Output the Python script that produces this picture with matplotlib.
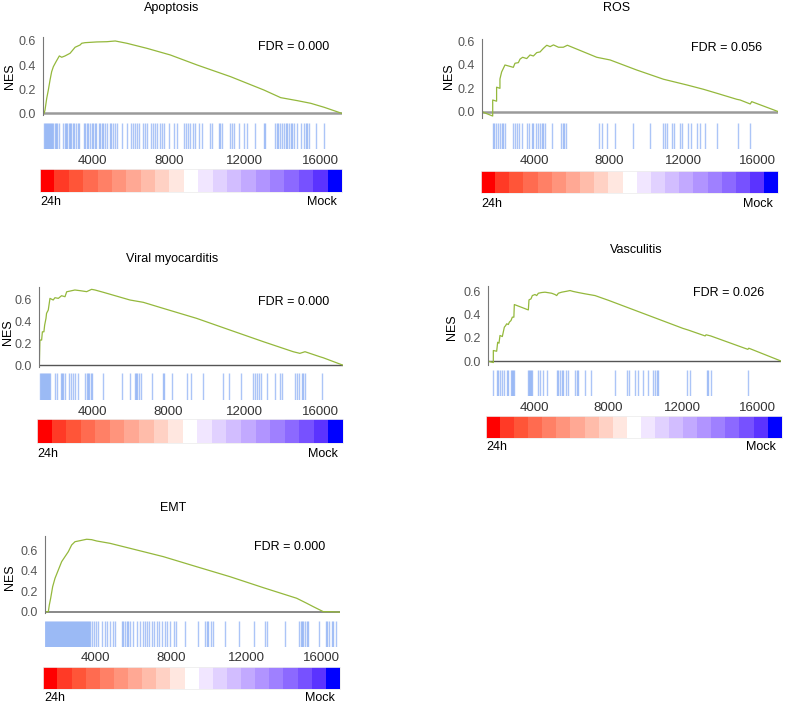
import matplotlib
matplotlib.use("Agg")
import matplotlib.pyplot as plt

plt.rcParams['font.family'] = ['Liberation Sans', 'DejaVu Sans']

# ---- data ----
titles = ["Apoptosis", "ROS", "Viral myocarditis", "Vasculitis", "EMT"]
fdr_values = ["0.000", "0.056", "0.000", "0.026", "0.000"]
x_ticks = [4000, 8000, 12000, 16000]
y_ticks = [0.0, 0.2, 0.4, 0.6]

apo_x = [1390, 1430, 1480, 1570, 1655, 1745, 1830, 1920, 2060, 2235, 2360, 2535, 2800, 3065, 3330, 3415,
         3590, 4210, 4740, 5180, 5790, 6850, 8080, 9490, 11255, 13015, 13895, 14775, 15480, 16185, 17110]
apo_y = [0.0, 0.0, 0.027, 0.124, 0.193, 0.276, 0.345, 0.387, 0.428, 0.476, 0.465, 0.476, 0.498, 0.548, 0.567, 0.581,
         0.586, 0.592, 0.594, 0.600, 0.581, 0.539, 0.484, 0.401, 0.304, 0.193, 0.13, 0.105, 0.083, 0.05, 0.0]
apo_hits = [1430, 1480, 1530, 1585, 1640, 1690, 1745, 1795, 1865, 1920, 1990, 2060, 2130, 2200,
            2450, 2520, 2590, 2660, 2730, 2800, 2870, 2940, 3030, 3120, 3205, 3290,
            3560, 3610, 3680, 3770, 3860, 3945, 4030, 4120, 4190,
            4300, 4385, 4470, 4560, 4665, 4770, 4880, 4965, 5055, 5160, 5265,
            5530, 5790, 6005, 6110, 6215, 6320, 6410, 6640, 6745, 6850,
            7080, 7170, 7255, 7380, 7520, 7645, 7765, 7995, 8295, 8435,
            8790, 8890, 9000, 9140, 9280, 9400, 9580, 9755, 10195, 10285,
            10635, 10725, 10810, 11200, 11305, 11430, 11690, 11960, 12135, 12540, 13015, 13070,
            13595, 13685, 13770, 13860, 13950, 14070, 14160, 14250, 14335, 14425, 14510, 14600,
            14775, 14990, 15130, 15215, 15305, 15390, 15745, 16185]

ros_x = [1170, 1760, 1760, 1970, 1970, 2150, 2150, 2240, 2420, 2870, 2960, 3140, 3230, 3370, 3590, 3770,
         3950, 4130, 4310, 4490, 4670, 4850, 5030, 5300, 5560, 5780, 7360, 8080, 9510, 10950, 12210,
         13100, 13820, 14900, 15080, 15620, 15700, 17140]
ros_y = [0.0, -0.037, 0.10, 0.09, 0.21, 0.20, 0.28, 0.34, 0.40, 0.38, 0.415, 0.42, 0.45, 0.466, 0.455, 0.486,
         0.477, 0.506, 0.512, 0.543, 0.569, 0.557, 0.572, 0.552, 0.552, 0.569, 0.466, 0.443, 0.357, 0.278, 0.229,
         0.192, 0.158, 0.106, 0.10, 0.066, 0.086, 0.0]
ros_hits = [1760, 1830, 1938, 2064, 2154, 2243, 2333, 2423, 2872, 2961, 3087, 3195, 3320,
            3625, 3733, 3859, 3949, 4092, 4218, 4308, 4397, 4487, 4577, 4936,
            5420, 5528, 5618, 5708, 7503, 7628, 7898, 8346, 9334, 10231,
            10949, 11039, 11129, 11398, 11523, 11847, 11936, 12295, 12421, 12744, 12924, 13193,
            13821, 14988, 15616]

vir_x = [1230, 1260, 1350, 1390, 1470, 1510, 1580, 1610, 1700, 1790, 1960, 2050, 2230, 2400, 2580, 2670,
         2840, 3100, 3370, 3720, 3980, 4160, 4600, 6000, 6700, 7750, 9510, 11260, 13020, 14590, 14940,
         15210, 16000, 16170, 17230]
vir_y = [0.0, 0.23, 0.23, 0.305, 0.305, 0.366, 0.427, 0.473, 0.503, 0.609, 0.594, 0.615, 0.609, 0.633, 0.624, 0.669,
         0.675, 0.685, 0.679, 0.670, 0.691, 0.685, 0.664, 0.594, 0.573, 0.518, 0.427, 0.321, 0.215, 0.124, 0.109,
         0.124, 0.078, 0.069, 0.0]
vir_hits = [1240, 1298, 1351, 1404, 1474, 1526, 1579, 1614, 1667, 1719, 1789, 2053, 2140,
            2351, 2403, 2491, 2579, 2807, 2877, 3017, 3105, 3280, 3631, 3719, 3807, 3859, 3929, 3982,
            4561, 5561, 6000, 6262, 6315, 6385, 6490, 6560, 7139, 7718, 7788, 8192, 8981, 9209,
            9823, 10910, 11208, 11840, 12489, 12577, 12664, 12805, 12892, 13225, 13629, 13892, 14015,
            14681, 14769, 14909, 15032, 15120, 15225, 16085]

vas_x = [1490, 1794, 1794, 1974, 2028, 2099, 2153, 2279, 2387, 2458, 2512, 2602, 2656, 2746, 2817, 2900,
         2925, 3679, 3715, 3823, 3894, 4038, 4128, 4218, 4397, 4577, 4936, 5115, 5205, 5295, 5474, 5743,
         5923, 6102, 6372, 6731, 7269, 8000, 9000, 10000, 11000, 12000, 12300, 13200, 13250, 13500,
         15500, 15550, 17285]
vas_y = [0.0, -0.013, 0.09, 0.084, 0.161, 0.153, 0.219, 0.21, 0.29, 0.304, 0.319, 0.313, 0.333, 0.347, 0.376, 0.376,
         0.484, 0.438, 0.524, 0.533, 0.561, 0.570, 0.561, 0.581, 0.587, 0.590, 0.581, 0.570, 0.561, 0.581, 0.590, 0.598,
         0.604, 0.596, 0.587, 0.576, 0.561, 0.52, 0.46, 0.40, 0.34, 0.28, 0.265, 0.215, 0.225, 0.215,
         0.10, 0.11, 0.0]
vas_hits = [1794, 1974, 2064, 2153, 2279, 2387, 2512, 2602, 2746, 2817, 2871, 2925,
            3679, 3715, 3769, 3823, 3894, 4181, 4307, 4487, 4666,
            5205, 5295, 5384, 5474, 5564, 5689, 5797, 6192, 6282, 6372, 6731, 7054,
            8346, 8974, 9100, 9423, 9603, 9872, 10141, 10410, 10500, 10590, 10644,
            12241, 12385, 13282, 13372, 13516, 15526]

emt_x = [1341, 1517, 1570, 1641, 1747, 1871, 2047, 2224, 2400, 2577, 2754, 2930, 3195, 3548, 3813, 4078,
         4784, 5844, 7610, 9376, 11142, 12908, 14674, 15204, 15557, 16087, 16440, 16970]
emt_y = [0.0, 0.0, 0.066, 0.132, 0.246, 0.328, 0.41, 0.492, 0.541, 0.59, 0.656, 0.688, 0.698, 0.712, 0.708, 0.695,
         0.672, 0.623, 0.541, 0.442, 0.344, 0.236, 0.132, 0.083, 0.049, 0.0, 0.0, -0.005]
emt_hits = [1345, 1392, 1450, 1498, 1551, 1610, 1655, 1715, 1760, 1820, 1868, 1925, 1975, 2032, 2080,
            2140, 2186, 2245, 2290, 2350, 2398, 2455, 2505, 2562, 2610, 2668, 2715, 2775, 2822, 2880,
            2928, 2985, 3035, 3092, 3140, 3198, 3245, 3305, 3352, 3410, 3458, 3515, 3565, 3622, 3670, 3728,
            3813, 3937, 4043, 4166, 4343, 4520, 4643, 4784, 4961, 5049,
            5403, 5491, 5579, 5667, 5756, 5844, 6021, 6197,
            6374, 6515, 6639, 6762, 6868, 6992, 7116, 7257, 7398, 7522, 7698, 7822, 7963, 8175, 8281,
            8758, 9464, 9818, 9906, 9994, 10118, 10224, 10877, 11636, 12413, 12996, 13120, 14056,
            14815, 14886, 14939, 15027, 15116, 15204, 15292, 15875, 16228, 16299, 16405, 16529, 16617, 16758]

curves_x = [apo_x, ros_x, vir_x, vas_x, emt_x]
curves_y = [apo_y, ros_y, vir_y, vas_y, emt_y]
hits = [apo_hits, ros_hits, vir_hits, vas_hits, emt_hits]

# ---- layout, in pixels of the 787x707 figure ----
W, H = 787.0, 707.0
# axes box (x0, x1, y_top, y_bottom), ylim, xlim, barcode (top, bottom),
# colour bar (x0, x1, top, bottom), label row y, title pos, fdr pos, NES pos, zero line style
layout = [
    dict(ax=(43.3, 341.7, 37, 115), ylim=(-0.014, 0.633), xlim=(1390, 17110), bar=(122.7, 149),
         cb=(40, 342, 169, 192.3), lab=202, title=(172, 8), fdr=(294, 46.7), nes=(10.5, 76), zero=('#9a9a9a', 1.8)),
    dict(ax=(481.7, 778.3, 39.3, 118), ylim=(-0.054, 0.62), xlim=(1168, 17130), bar=(123.3, 149.3),
         cb=(481, 778.3, 171, 193.3), lab=204, title=(616.7, 8), fdr=(726.7, 48.3), nes=(449, 76), zero=('#9a9a9a', 1.8)),
    dict(ax=(39.3, 343.3, 286.7, 367), ylim=(-0.015, 0.715), xlim=(1228, 17226), bar=(372.7, 400),
         cb=(37, 343, 419, 443), lab=454, title=(171.7, 259.3), fdr=(294, 301.7), nes=(8.3, 331.7), zero=('#555555', 1.0)),
    dict(ax=(487.7, 781, 286, 365), ylim=(-0.034, 0.643), xlim=(1491, 17285), bar=(370, 396),
         cb=(486, 781.7, 416, 438.3), lab=447, title=(636, 250), fdr=(729, 293.3), nes=(452, 326.7), zero=('#555555', 1.0)),
    dict(ax=(45, 340, 536, 613), ylim=(-0.013, 0.744), xlim=(1341, 16970), bar=(620.7, 646.7),
         cb=(43.3, 340, 666.7, 689.3), lab=698.3, title=(173.3, 508.3), fdr=(289.3, 547.3), nes=(10, 576.7), zero=('#888888', 1.4)),
]

cell_colors = ['#ff0000', '#ff3a26', '#ff5538', '#ff6b50', '#ff8066', '#ff947c', '#ffa894', '#ffbcaa',
               '#ffd1c4', '#ffe7e0', '#ffffff', '#f1e6ff', '#e1d1ff', '#d2bdff', '#c2a9ff', '#b194ff',
               '#9f80ff', '#8c69ff', '#7751ff', '#5b33ff', '#0000ff']


def rect(x0, x1, top, bottom):
    return [x0 / W, 1 - bottom / H, (x1 - x0) / W, (bottom - top) / H]


fig = plt.figure(figsize=(W / 100, H / 100), dpi=100)

for i, L in enumerate(layout):
    x0, x1, top, bottom = L['ax']

    # running enrichment curve
    ax = fig.add_axes(rect(x0, x1, top, bottom))
    ax.plot(curves_x[i], curves_y[i], color='#94b83c', lw=0.9)
    ax.axhline(0, color=L['zero'][0], lw=L['zero'][1], zorder=0)
    ax.set_xlim(L['xlim'])
    ax.set_ylim(L['ylim'])
    ax.set_yticks(y_ticks)
    ax.set_yticklabels(['%.1f' % v for v in y_ticks])
    ax.set_xticks([])
    for s in ['top', 'right', 'bottom']:
        ax.spines[s].set_visible(False)
    ax.spines['left'].set_color('#777777')
    ax.spines['left'].set_linewidth(0.8)
    ax.tick_params(axis='y', length=0, pad=5, labelsize=9, labelcolor='#555555')
    ax.patch.set_alpha(0)

    # barcode of hits
    bx = fig.add_axes(rect(x0, x1, L['bar'][0], L['bar'][1]))
    bx.vlines(hits[i], 0, 1, color='#5a8cf0', alpha=0.5, lw=1.0)
    bx.set_xlim(L['xlim'])
    bx.set_ylim(0, 1)
    bx.set_yticks([])
    bx.set_xticks(x_ticks)
    bx.set_xticklabels([str(t) for t in x_ticks])
    bx.tick_params(axis='x', length=0, pad=4, labelsize=9.5, labelcolor='#333333')
    for s in bx.spines.values():
        s.set_visible(False)

    # colour bar 24h -> Mock
    c0, c1, ct, cbm = L['cb']
    cx = fig.add_axes(rect(c0, c1, ct, cbm))
    cx.bar(range(len(cell_colors)), 1, width=1.0, color=cell_colors, align='edge')
    cx.set_xlim(0, len(cell_colors))
    cx.set_ylim(0, 1)
    cx.set_xticks([])
    cx.set_yticks([])
    for s in cx.spines.values():
        s.set_color('#eeeeee')
        s.set_linewidth(0.6)

    fig.text(c0 / W + 0.001, 1 - L['lab'] / H, '24h', fontsize=9, ha='left', va='center')
    fig.text(c1 / W - 0.007, 1 - L['lab'] / H, 'Mock', fontsize=9, ha='right', va='center')

    fig.text(L['title'][0] / W, 1 - L['title'][1] / H, titles[i], fontsize=9, ha='center', va='center')
    fig.text(L['fdr'][0] / W, 1 - L['fdr'][1] / H, 'FDR = ' + fdr_values[i], fontsize=9,
             ha='center', va='center')
    fig.text(L['nes'][0] / W, 1 - L['nes'][1] / H, 'NES', fontsize=9, rotation=90,
             ha='center', va='center')

fig.savefig('out.png', dpi=100)
